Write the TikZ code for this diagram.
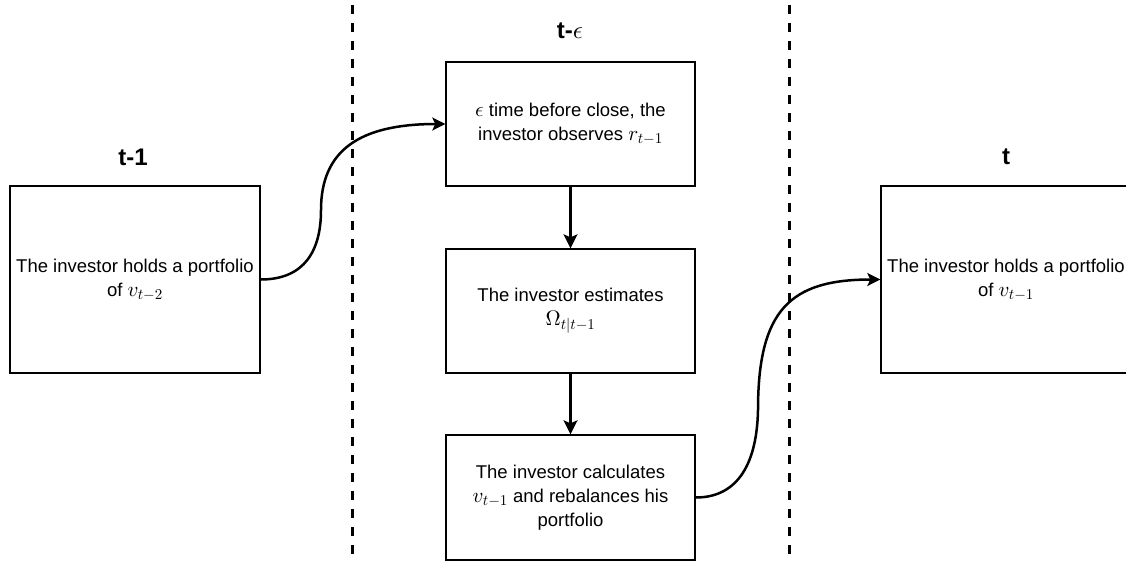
\documentclass[tikz,border=0pt]{standalone}
\usepackage[no-math]{fontspec}
\setmainfont{Liberation Sans}
\DeclareFontFamily{OML}{cmm}{\skewchar\font127 }
\DeclareFontShape{OML}{cmm}{m}{it}{<->cmmi10}{}
\DeclareFontShape{OML}{cmm}{b}{it}{<->cmmib10}{}
\DeclareFontFamily{OMS}{cmsy}{\skewchar\font48 }
\DeclareFontShape{OMS}{cmsy}{m}{n}{<->cmsy10}{}
\DeclareFontFamily{OT1}{cmr}{\hyphenchar\font45 }
\DeclareFontShape{OT1}{cmr}{m}{n}{<->cmr10}{}
\DeclareFontShape{OT1}{cmr}{bx}{n}{<->cmbx10}{}
\DeclareMathSizes{18.5}{21}{15}{11}
\DeclareMathSizes{24}{25}{18}{13}
\usetikzlibrary{arrows.meta}
\begin{document}
\begin{tikzpicture}[x=1pt,y=-1pt,
  box/.style={draw=black,line width=1.4pt,rectangle,inner sep=0pt,
    align=center,font=\fontsize{18.5}{24}\selectfont},
  title/.style={font=\fontsize{24}{28}\selectfont\bfseries},
  divider/.style={line width=3pt,dash pattern=on 9pt off 9pt},
  conn/.style={line width=2.5pt,-{Stealth[length=13pt,width=13pt,inset=3pt]}},
  flow/.style={line width=2.2pt,-{Stealth[length=14pt,width=14pt,inset=3pt]}}]
\useasboundingbox (0,0) rectangle (1126,563);
\fill[white] (0,0) rectangle (1126,563);
\clip (0,0) rectangle (1126,563);
\coordinate (d1t) at (352,5); \coordinate (d1b) at (352,560);
\coordinate (d2t) at (789,5); \coordinate (d2b) at (789,560);
\draw[divider] (d1t) -- (d1b);
\draw[divider] (d2t) -- (d2b);
\node[title] (t1) at (133,157) {t-1};
\node[title] (te) at (570,31) {t-$\epsilon$};
\node[title] (t) at (1006,157) {t};
\node[box,minimum width=250pt,minimum height=187pt] (L) at (135,279.5)
  {The investor holds a portfolio\\ of $v_{t-2}$};
\node[box,minimum width=249pt,minimum height=124pt] (M1) at (570.5,124)
  {$\epsilon$ time before close, the\\ investor observes $r_{t-1}$};
\node[box,minimum width=249pt,minimum height=124pt] (M2) at (570.5,311)
  {The investor estimates\\ $\Omega_{t|t-1}$};
\node[box,minimum width=249pt,minimum height=125pt] (M3) at (570.5,497.5)
  {The investor calculates\\ $v_{t-1}$ and rebalances his\\ portfolio};
\node[box,minimum width=250pt,minimum height=187pt] (R) at (1006,279.5)
  {The investor holds a portfolio\\ of $v_{t-1}$};
\coordinate (w1) at (321,210);
\coordinate (w2) at (758,410);
\draw[flow] (M1.south) -- (M2.north);
\draw[flow] (M2.south) -- (M3.north);
\draw[conn] (L.east) .. controls (305,279.5) and (321,250) .. (w1)
  .. controls (321,150) and (360,124) .. (M1.west);
\draw[conn] (M3.east) .. controls (740,497.5) and (757,460) .. (w2)
  .. controls (758,310) and (790,279.5) .. (R.west);
\end{tikzpicture}
\end{document}
